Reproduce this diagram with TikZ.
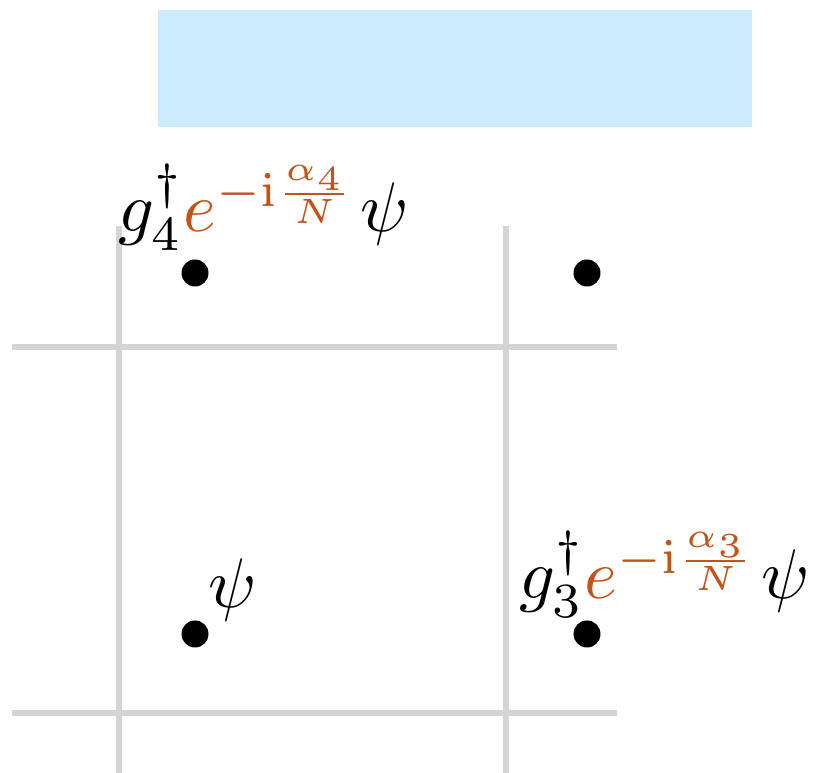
\documentclass[tikz,border=0pt]{standalone}
\usepackage{xcolor}
\usepackage{amsmath}
\usepackage{amssymb}
\usepackage{tikz}
\usetikzlibrary{positioning,calc}
\definecolor{phaseorange}{RGB}{194,84,24}
\definecolor{lightsky}{RGB}{204,235,255}
\definecolor{gridgray}{RGB}{212,212,212}

\begin{document}
\begin{tikzpicture}[
        gridline/.style={draw=gridgray, line width=0.72pt},
        site/.style={circle, fill=black, inner sep=0pt, minimum size=0.135cm},
        lbl/.style={anchor=base west, inner sep=0pt, font=\normalsize}]

        \useasboundingbox (0,0) rectangle (4.065,3.865);

        % Blue banner
        \fill[lightsky] (0.79,3.23) rectangle (3.76,3.815);

        % Grid lines
        \draw[gridline] (0.06,2.13) -- (3.085,2.13);
        \draw[gridline] (0.06,0.30) -- (3.085,0.30);
        \draw[gridline] (0.595,2.735) -- (0.595,-0.1);
        \draw[gridline] (2.53,2.735) -- (2.53,-0.1);

        % Sites
        \node[site] (S4) at (0.975,2.5) {};
        \node[site] (S2) at (2.935,2.5) {};
        \node[site] (S1) at (0.975,0.695) {};
        \node[site] (S3) at (2.935,0.695) {};

        % Labels
        \node[lbl] (L4) at (0.585,2.705) {$g_4^\dagger\textcolor{phaseorange}{e^{-\mathrm{i}\frac{\alpha_4}{N}}}\mkern1mu\psi$};
        \node[lbl] (L3) at (2.59,0.87) {$g_3^\dagger\textcolor{phaseorange}{e^{-\mathrm{i}\frac{\alpha_3}{N}}}\mkern1mu\psi$};
        \node[lbl] (L1) at (1.035,0.825) {$\psi$};

    \end{tikzpicture}
\end{document}
